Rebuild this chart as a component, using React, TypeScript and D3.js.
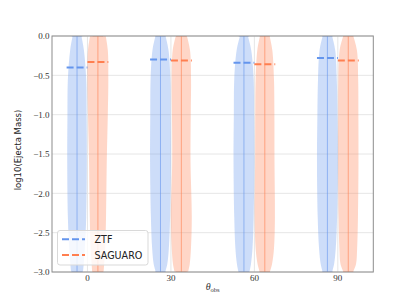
import React from "react";
import * as d3 from "d3";

const thetas = [0, 30, 60, 90];
const densityLevels = [0, -0.18, -0.55, -1.0, -1.6, -2.3, -2.7, -2.9, -3.0];
const ztfWidths = [
  [0.42, 0.66, 0.88, 0.92, 0.94, 0.88, 0.75, 0.64, 0.57],
  [0.48, 0.77, 0.95, 0.98, 1.0, 0.92, 0.8, 0.65, 0.45],
  [0.38, 0.7, 0.93, 0.97, 1.0, 0.93, 0.82, 0.67, 0.53],
  [0.45, 0.75, 0.9, 0.96, 1.0, 0.93, 0.8, 0.64, 0.45],
];
const saguaroWidths = [
  [0.75, 0.95, 1.0, 0.95, 0.85, 0.78, 0.7, 0.6, 0.55],
  [0.53, 0.83, 0.93, 0.9, 0.88, 1.0, 0.92, 0.8, 0.64],
  [0.46, 0.72, 0.88, 0.92, 0.93, 0.97, 0.88, 0.69, 0.48],
  [0.48, 0.83, 0.95, 0.97, 0.98, 0.93, 0.85, 0.74, 0.45],
];
const ztfMedians = [-0.4, -0.3, -0.34, -0.28];
const saguaroMedians = [-0.33, -0.31, -0.36, -0.31];
const yTicks = [0, -0.5, -1.0, -1.5, -2.0, -2.5, -3.0];
const xTicks = [0, 30, 60, 90];
const seriesNames = ["ZTF", "SAGUARO"];
const dataMin = -3;
const dataMax = 0;

const BLUE = "#6495ED";
const ORANGE = "#FF7F50";

export default function App() {
  const W = 415, H = 305;
  const left = 52, right = 373.3, top = 36, bottom = 272;
  const x = d3.scaleLinear().domain([-12.75, 102.75]).range([left, right]);
  const y = d3.scaleLinear().domain([-3, 0]).range([bottom, top]);
  const half = 3.75;
  const offset = 3.75;
  const hwPx = x(half) - x(0);

  const area = (center: number, widths: number[]) =>
    d3
      .area<number>()
      .y((_, i) => y(densityLevels[i]))
      .x0((w) => x(center) - w * hwPx)
      .x1((w) => x(center) + w * hwPx)
      .curve(d3.curveCatmullRom)(widths) as string;

  const fmt = (v: number) => (v < 0 ? "\u2212" : "") + Math.abs(v).toFixed(1);

  const violins = (
    widthsArr: number[][],
    medians: number[],
    color: string,
    sign: number
  ) =>
    thetas.map((t, i) => {
      const c = t + sign * offset;
      return (
        <g key={color + t}>
          <path d={area(c, widthsArr[i])} fill={color} fillOpacity={0.32} stroke="none" />
          <line x1={x(c)} x2={x(c)} y1={y(dataMin)} y2={y(dataMax)} stroke={color} strokeOpacity={0.6} strokeWidth={1} />
          <line x1={x(c - half / 2)} x2={x(c + half / 2)} y1={y(dataMin)} y2={y(dataMin)} stroke={color} strokeOpacity={0.6} strokeWidth={1.2} />
          <line x1={x(c - half / 2)} x2={x(c + half / 2)} y1={y(dataMax)} y2={y(dataMax)} stroke={color} strokeOpacity={0.6} strokeWidth={1.2} />
          <line
            x1={x(sign < 0 ? t - 2 * half : t)}
            x2={x(sign < 0 ? t : t + 2 * half)}
            y1={y(medians[i])}
            y2={y(medians[i])}
            stroke={color}
            strokeWidth={2}
            strokeDasharray="7,3"
          />
        </g>
      );
    });

  return (
    <svg width={W} height={H} style={{ position: "absolute", left: 0, top: 0 }}>
      <defs>
        <clipPath id="plot">
          <rect x={left} y={top} width={right - left} height={bottom - top} />
        </clipPath>
      </defs>
      <rect x={0} y={0} width={W} height={H} fill="white" />
      {yTicks.map((v) => (
        <line key={"gy" + v} x1={left} x2={right} y1={y(v)} y2={y(v)} stroke="#e6e6e6" strokeWidth={1} />
      ))}
      {xTicks.map((v) => (
        <line key={"gx" + v} x1={x(v)} x2={x(v)} y1={top} y2={bottom} stroke="#e6e6e6" strokeWidth={1} />
      ))}
      <g clipPath="url(#plot)">
        {violins(ztfWidths, ztfMedians, BLUE, -1)}
        {violins(saguaroWidths, saguaroMedians, ORANGE, 1)}
      </g>
      <rect x={left} y={top} width={right - left} height={bottom - top} fill="none" stroke="#8c8c8c" strokeWidth={1} />
      {yTicks.map((v) => (
        <text key={"ty" + v} x={left - 2.5} y={y(v) + 3.2} textAnchor="end" fontFamily="'Liberation Serif', serif" fontSize={9} fill="#333">
          {fmt(v)}
        </text>
      ))}
      {xTicks.map((v) => (
        <text key={"tx" + v} x={x(v)} y={280.5} textAnchor="middle" fontFamily="'Liberation Serif', serif" fontSize={9} fill="#333">
          {v}
        </text>
      ))}
      <text x={(left + right) / 2} y={290} textAnchor="middle" fontFamily="'Liberation Serif', serif" fill="#333">
        <tspan fontStyle="italic" fontSize={10}>θ</tspan>
        <tspan fontSize={6.5} dy={2}>obs</tspan>
      </text>
      <text
        transform={`translate(20.5, 150) rotate(-90)`}
        textAnchor="middle"
        fontFamily="'DejaVu Sans', sans-serif"
        fontSize={8.5}
        fill="#222"
      >
        log10(Ejecta Mass)
      </text>
      <g>
        <rect x={57.5} y={230.5} width={90.5} height={34.5} rx={2.5} fill="white" fillOpacity={0.8} stroke="#d9d9d9" strokeWidth={1} />
        {seriesNames.map((name, i) => (
          <g key={name}>
            <line x1={62} x2={85} y1={239.3 + i * 15.7} y2={239.3 + i * 15.7} stroke={i === 0 ? BLUE : ORANGE} strokeWidth={2} strokeDasharray="7,3" />
            <text x={94.5} y={243 + i * 15.7} fontFamily="'DejaVu Sans', sans-serif" fontSize={9.6} fill="#222">
              {name}
            </text>
          </g>
        ))}
      </g>
    </svg>
  );
}
